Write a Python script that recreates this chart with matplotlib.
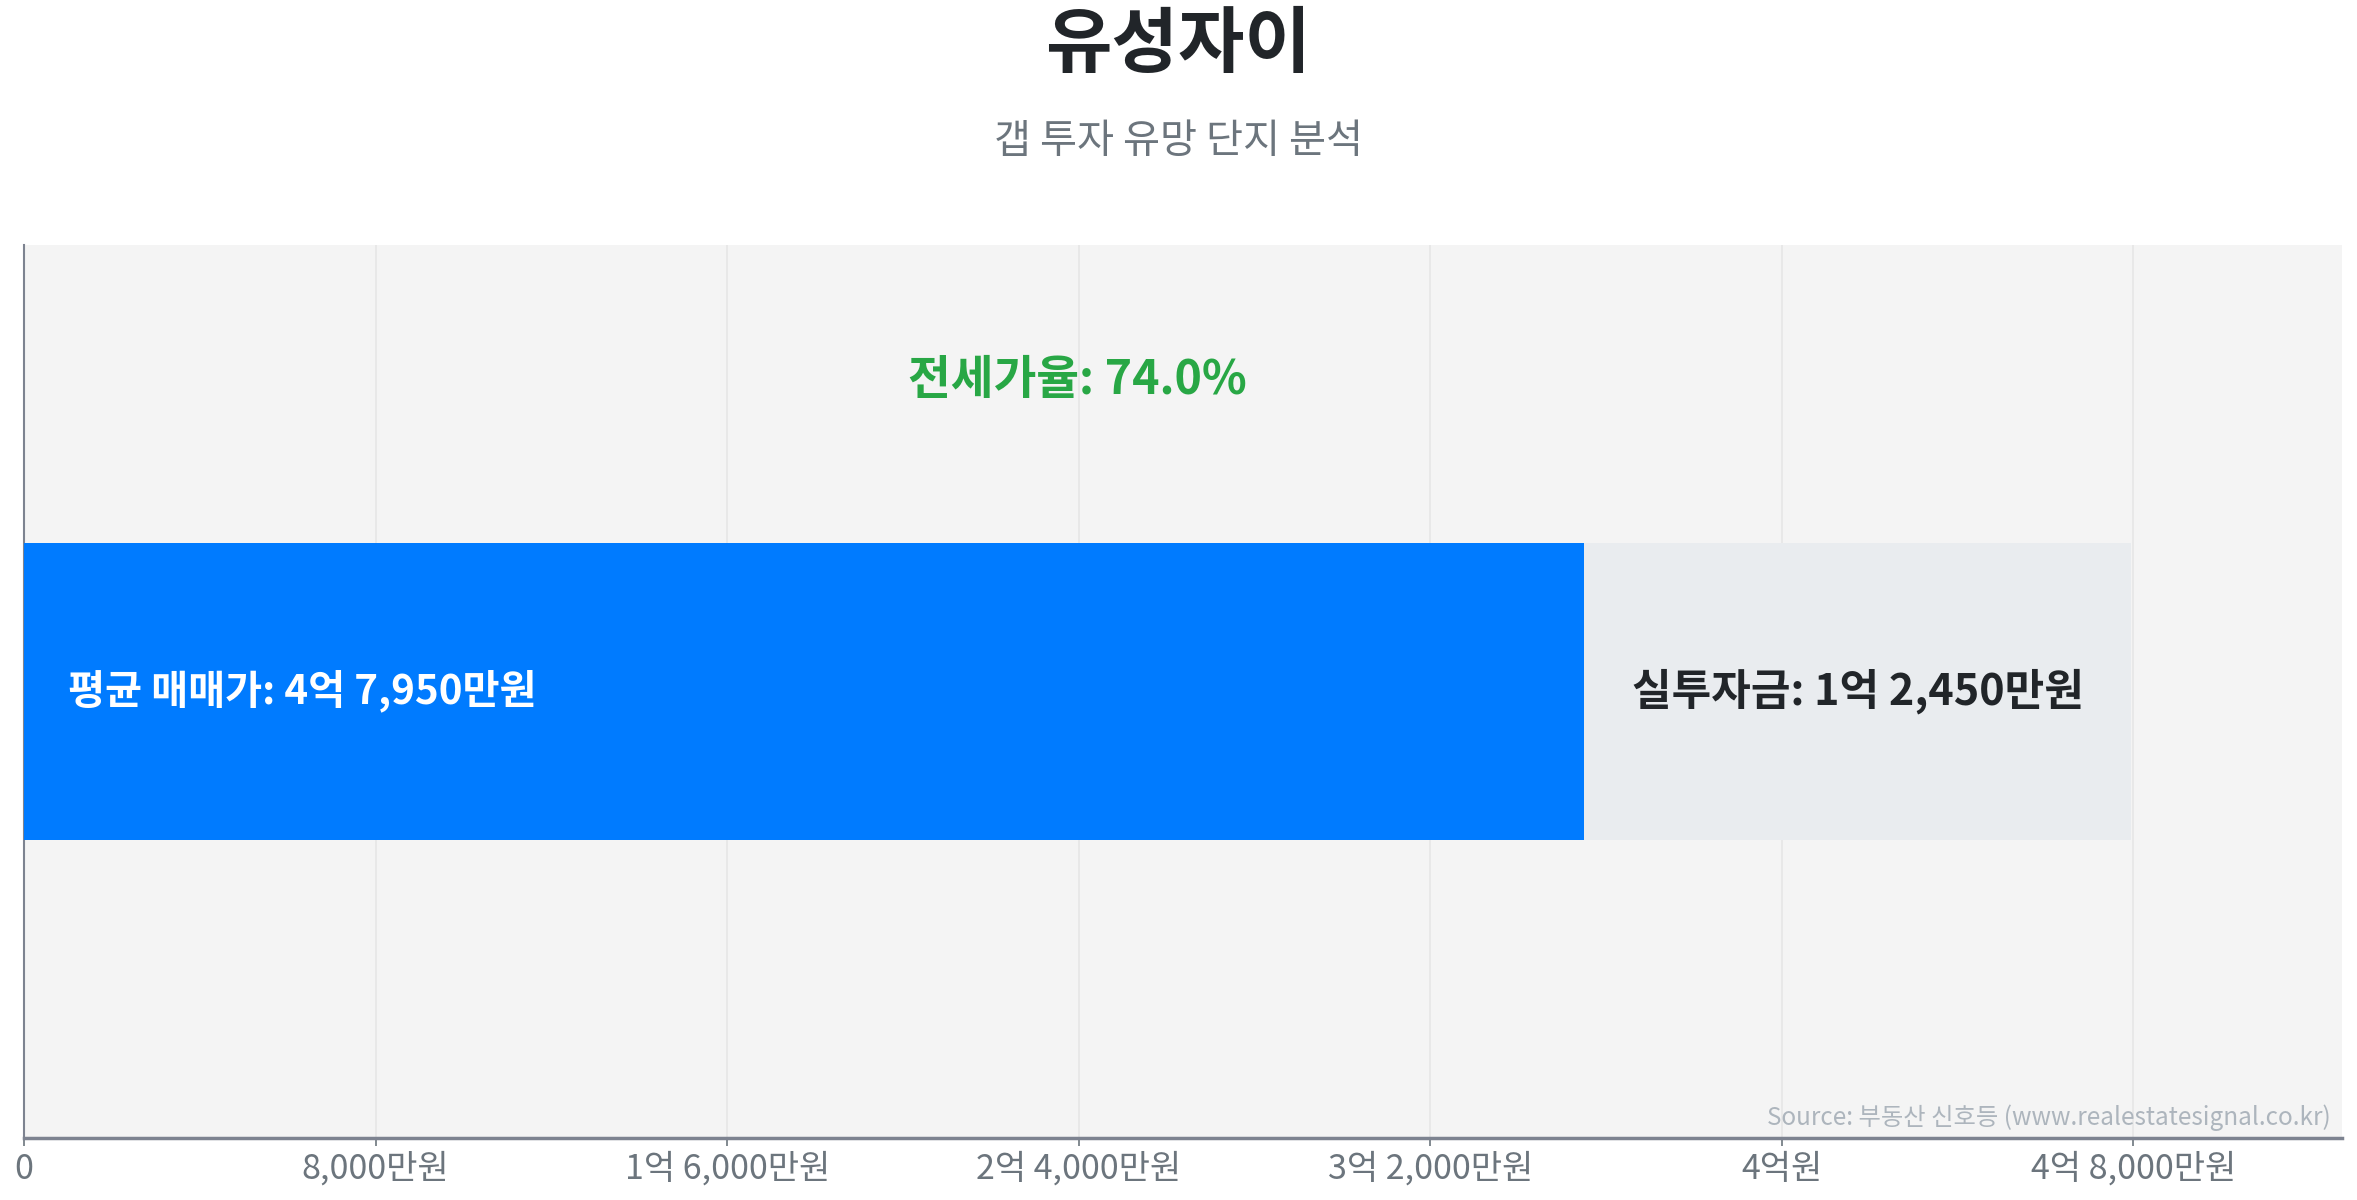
import matplotlib.pyplot as plt
from matplotlib.ticker import FuncFormatter

plt.rcParams['font.family'] = ['Noto Sans CJK KR', 'DejaVu Sans']

# values in 만원
sale_price = 47950
jeonse_price = 35500
gap = sale_price - jeonse_price
jeonse_ratio = 74.0
ticks = [0, 8000, 16000, 24000, 32000, 40000, 48000]

title = "유성자이"
subtitle = "갭 투자 유망 단지 분석"
source = "Source: 부동산 신호등 (www.realestatesignal.co.kr)"


def won(v, pos=None):
    v = int(round(v))
    if v == 0:
        return "0"
    eok, man = divmod(v, 10000)
    if eok and man:
        return f"{eok}억 {man:,}만원"
    if eok:
        return f"{eok}억원"
    return f"{man:,}만원"


fig = plt.figure(figsize=(23.57, 12), dpi=100)
ax = fig.add_axes([0.0102, 0.0517, 0.9834, 0.7443])
ax.set_facecolor("#f4f4f4")

ax.barh(0, jeonse_price, height=1.0, color="#007bff", zorder=3)
ax.barh(0, gap, left=jeonse_price, height=1.0, color="#e9ecef", zorder=3)

ax.set_xlim(0, sale_price * 1.1)
ax.set_ylim(-1.5, 1.5)
ax.set_yticks([])
ax.set_xticks(ticks)
ax.xaxis.set_major_formatter(FuncFormatter(won))
ax.tick_params(axis="x", labelsize=24.5, colors="#6c757d", length=6, width=1.2, pad=4)
ax.grid(axis="x", color="#e6e6e6", linewidth=1.2, zorder=0)

for s in ["top", "right"]:
    ax.spines[s].set_visible(False)
ax.spines["left"].set_color("#7d8390")
ax.spines["left"].set_linewidth(1.5)
ax.spines["bottom"].set_color("#7d8390")
ax.spines["bottom"].set_linewidth(2.5)

ax.annotate(f"평균 매매가: {won(sale_price)}", xy=(0, 0), xytext=(32, 0),
            textcoords="offset points", ha="left", va="center",
            fontsize=29, fontweight="bold", color="white", zorder=4)
ax.text(jeonse_price + gap / 2, 0, f"실투자금: {won(gap)}", ha="center", va="center",
        fontsize=31, fontweight="bold", color="#212529", zorder=4)
ax.text(sale_price / 2, 1.045, f"전세가율: {jeonse_ratio:.1f}%", ha="center", va="center",
        fontsize=33.5, fontweight="bold", color="#28a745", zorder=4)
ax.text(0.995, 0.008, source, transform=ax.transAxes, ha="right", va="bottom",
        fontsize=17.5, color="#adb5bd", zorder=4)

fig.text(0.5, 0.962, title, ha="center", va="center", fontsize=52,
         fontweight="bold", color="#212529")
fig.text(0.5, 0.882, subtitle, ha="center", va="center", fontsize=29, color="#6c757d")

fig.savefig("out.png", dpi=100)
